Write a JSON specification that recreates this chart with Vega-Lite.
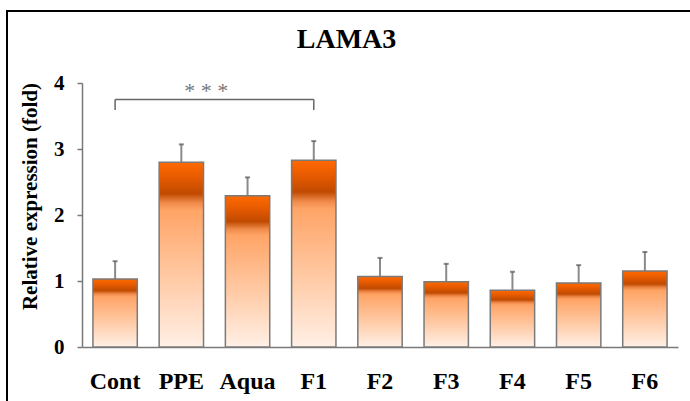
{
  "$schema": "https://vega.github.io/schema/vega-lite/v6.json",
  "autosize": "none",
  "padding": {"left": 7, "top": 11, "right": -10, "bottom": -10},
  "width": 693,
  "height": 400,
  "background": "white",
  "config": {
    "view": {"stroke": "black", "strokeWidth": 2},
    "font": "Times New Roman, Liberation Serif, serif"
  },
  "title": {
    "text": "LAMA3",
    "fontSize": 28,
    "font": "Times New Roman, Liberation Serif, serif",
    "fontWeight": "bold",
    "color": "black",
    "anchor": "middle",
    "frame": "group",
    "baseline": "alphabetic",
    "offset": -37,
    "dx": -7,
    "dy": 28
  },
  "data": {
    "values": [
      {"cat": "Cont", "value": 1.03, "upper": 1.30},
      {"cat": "PPE", "value": 2.80, "upper": 3.07},
      {"cat": "Aqua", "value": 2.29, "upper": 2.57},
      {"cat": "F1", "value": 2.83, "upper": 3.12},
      {"cat": "F2", "value": 1.07, "upper": 1.35},
      {"cat": "F3", "value": 0.99, "upper": 1.26},
      {"cat": "F4", "value": 0.86, "upper": 1.14},
      {"cat": "F5", "value": 0.97, "upper": 1.24},
      {"cat": "F6", "value": 1.15, "upper": 1.44}
    ]
  },
  "layer": [
    {
      "mark": {"type": "rule", "color": "#8a8a8a", "strokeWidth": 2},
      "encoding": {
        "x": {
          "field": "cat", "type": "nominal",
          "scale": {"domain": ["Cont", "PPE", "Aqua", "F1", "F2", "F3", "F4", "F5", "F6"], "range": [75, 671], "paddingInner": 0.33, "paddingOuter": 0.165},
          "axis": {"title": null, "offset": -64, "labelAngle": 0, "ticks": false, "tickSize": 0, "domainColor": "#7a7a7a", "domainWidth": 1.5, "labelFont": "Times New Roman, Liberation Serif, serif", "labelFontWeight": "bold", "labelFontSize": 24, "labelColor": "black", "labelBaseline": "alphabetic", "labelPadding": 41}
        },
        "y": {
          "field": "value", "type": "quantitative",
          "scale": {"domain": [0, 4], "range": [336, 72], "nice": false, "zero": true},
          "axis": {"title": "Relative expression (fold)", "offset": -75, "values": [0, 1, 2, 3, 4], "format": "d", "grid": false, "domainColor": "#7a7a7a", "domainWidth": 1.5, "tickColor": "#7a7a7a", "tickWidth": 1.5, "tickSize": 5, "labelFont": "Times New Roman, Liberation Serif, serif", "labelFontWeight": "bold", "labelFontSize": 21, "labelColor": "black", "labelPadding": 13, "labelBaseline": "middle", "titleFont": "Times New Roman, Liberation Serif, serif", "titleFontWeight": "bold", "titleFontSize": 21, "titleColor": "black", "titleX": -52, "titleY": 185, "titleBaseline": "middle", "titleAngle": 270}
        },
        "y2": {"field": "upper"}
      }
    },
    {
      "mark": {
        "type": "bar",
        "stroke": "#7a7a7a",
        "strokeWidth": 1.5,
        "fill": {
          "gradient": "linear", "x1": 0, "y1": 0, "x2": 0, "y2": 1,
          "stops": [
            {"offset": 0, "color": "#ff6a00"},
            {"offset": 0.08, "color": "#e85b00"},
            {"offset": 0.17, "color": "#c04a00"},
            {"offset": 0.22, "color": "#ef8a4a"},
            {"offset": 0.26, "color": "#ffa466"},
            {"offset": 0.6, "color": "#ffc7a0"},
            {"offset": 1, "color": "#fff0e6"}
          ]
        }
      },
      "encoding": {
        "x": {"field": "cat", "type": "nominal"},
        "y": {"field": "value", "type": "quantitative", "title": "Relative expression (fold)"}
      }
    },
    {
      "mark": {"type": "tick", "color": "#555555", "size": 5, "thickness": 2},
      "encoding": {
        "x": {"field": "cat", "type": "nominal"},
        "y": {"field": "upper", "type": "quantitative", "title": "Relative expression (fold)"}
      }
    },
    {
      "data": {
        "values": [
          {"a": "Cont", "b": "F1", "y1": 3.75, "y2": 3.75},
          {"a": "Cont", "b": "Cont", "y1": 3.59, "y2": 3.75},
          {"a": "F1", "b": "F1", "y1": 3.59, "y2": 3.75}
        ]
      },
      "mark": {"type": "rule", "color": "#666666", "strokeWidth": 1.5},
      "encoding": {
        "x": {"field": "a", "type": "nominal"},
        "x2": {"field": "b"},
        "y": {"field": "y1", "type": "quantitative", "title": "Relative expression (fold)"},
        "y2": {"field": "y2"}
      }
    },
    {
      "data": {"values": [{"cat": "PPE", "y": 3.77, "label": "* * *"}]},
      "mark": {"type": "text", "font": "Times New Roman, Liberation Serif, serif", "fontSize": 22, "color": "#777777", "baseline": "alphabetic", "align": "center", "dx": 25},
      "encoding": {
        "x": {"field": "cat", "type": "nominal"},
        "y": {"field": "y", "type": "quantitative", "title": "Relative expression (fold)"},
        "text": {"field": "label"}
      }
    }
  ]
}
